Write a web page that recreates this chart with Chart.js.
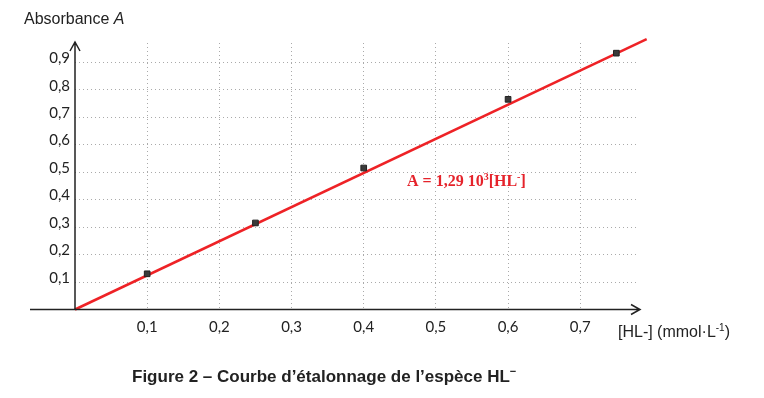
<!DOCTYPE html>
<html>
<head>
<meta charset="utf-8">
<script src="https://cdn.jsdelivr.net/npm/chart.js@4"></script>
<style>
  html, body { margin: 0; padding: 0; background: #fff; }
  #wrap { width: 764px; height: 398px; }
</style>
</head>
<body>
<div id="wrap"><canvas id="etalonnage" width="764" height="398"></canvas></div>
<script>
// mesures (concentration en mmol/L, absorbance)
const concentrations = [0.1, 0.25, 0.4, 0.6, 0.75];
const absorbances = [0.13, 0.315, 0.515, 0.765, 0.933];
// droite d'étalonnage (extrémités)
const fitX = [0, 0.792];
const fitY = [0, 0.984];
const xTicks = [0.1, 0.2, 0.3, 0.4, 0.5, 0.6, 0.7];
const yTicks = [0.1, 0.2, 0.3, 0.4, 0.5, 0.6, 0.7, 0.8, 0.9];

function virgule(v) { return v.toFixed(1).replace('.', ','); }

const textes = {
  id: 'textes',
  afterDraw(chart) {
    const ctx = chart.ctx;
    const a = chart.chartArea;
    ctx.save();
    // axes avec flèches
    ctx.strokeStyle = '#222';
    ctx.lineWidth = 1.5;
    ctx.beginPath();
    ctx.moveTo(a.left - 45, a.bottom); ctx.lineTo(a.right + 2, a.bottom);
    ctx.moveTo(a.right - 7, a.bottom - 5); ctx.lineTo(a.right + 2, a.bottom); ctx.lineTo(a.right - 7, a.bottom + 5);
    ctx.moveTo(a.left, a.bottom); ctx.lineTo(a.left, a.top - 1);
    ctx.moveTo(a.left - 5, a.top + 8); ctx.lineTo(a.left, a.top - 1); ctx.lineTo(a.left + 5, a.top + 8);
    ctx.stroke();

    ctx.fillStyle = '#222';
    ctx.textBaseline = 'middle';
    ctx.font = '16px "Liberation Sans", Arial, sans-serif';
    ctx.fillText('Absorbance ', 24, 20);
    let w = ctx.measureText('Absorbance ').width;
    ctx.font = 'italic 16px "Liberation Sans", Arial, sans-serif';
    ctx.fillText('A', 24 + w, 20);

    ctx.font = '16px "Liberation Sans", Arial, sans-serif';
    let x = 618;
    ctx.fillText('[HL-] (mmol·L', x, 333);
    x += ctx.measureText('[HL-] (mmol·L').width;
    ctx.font = '10px "Liberation Sans", Arial, sans-serif';
    ctx.fillText('-1', x, 328);
    x += ctx.measureText('-1').width;
    ctx.font = '16px "Liberation Sans", Arial, sans-serif';
    ctx.fillText(')', x, 333);

    // équation
    ctx.fillStyle = '#e5232b';
    ctx.textBaseline = 'alphabetic';
    const sy = 186;
    x = 407;
    ctx.font = 'bold 16px "Liberation Serif", "Times New Roman", serif';
    ctx.fillText('A = 1,29 10', x, sy);
    x += ctx.measureText('A = 1,29 10').width;
    ctx.font = 'bold 10px "Liberation Serif", "Times New Roman", serif';
    ctx.fillText('3', x, sy - 6);
    x += ctx.measureText('3').width;
    ctx.font = 'bold 16px "Liberation Serif", "Times New Roman", serif';
    ctx.fillText('[HL', x, sy);
    x += ctx.measureText('[HL').width;
    ctx.font = 'bold 10px "Liberation Serif", "Times New Roman", serif';
    ctx.fillText('-', x, sy - 6);
    x += ctx.measureText('-').width;
    ctx.font = 'bold 16px "Liberation Serif", "Times New Roman", serif';
    ctx.fillText(']', x, sy);

    // légende de la figure
    ctx.fillStyle = '#222';
    ctx.textBaseline = 'middle';
    ctx.font = 'bold 17px "Liberation Sans", Arial, sans-serif';
    x = 132;
    ctx.fillText('Figure 2 – Courbe d’étalonnage de l’espèce HL', x, 377);
    x += ctx.measureText('Figure 2 – Courbe d’étalonnage de l’espèce HL').width;
    ctx.font = 'bold 11px "Liberation Sans", Arial, sans-serif';
    ctx.fillText('−', x, 372);
    ctx.restore();
  }
};

const ctx = document.getElementById('etalonnage').getContext('2d');
new Chart(ctx, {
  type: 'scatter',
  data: {
    datasets: [{
      label: 'droite',
      data: fitX.map((v, i) => ({ x: v, y: fitY[i] })),
      showLine: true,
      borderColor: '#ee2226',
      borderWidth: 2.5,
      pointRadius: 0,
      clip: false,
      order: 2
    }, {
      label: 'mesures',
      data: concentrations.map((v, i) => ({ x: v, y: absorbances[i] })),
      pointStyle: 'rect',
      pointRadius: 4,
      backgroundColor: '#3a3a3a',
      borderColor: '#222',
      borderWidth: 1,
      order: 1
    }]
  },
  options: {
    responsive: false,
    animation: false,
    layout: { padding: { left: 0, right: 126, top: 43, bottom: 0 } },
    plugins: { legend: { display: false }, tooltip: { enabled: false } },
    scales: {
      x: {
        type: 'linear',
        min: 0,
        max: 0.78,
        afterBuildTicks: function(axis) { axis.ticks = xTicks.map(v => ({ value: v })); },
        afterFit: function(axis) { axis.height = 88.5; },
        grid: { color: '#aaa', lineWidth: 1, drawTicks: false },
        border: { display: false, dash: [1, 3] },
        ticks: {
          padding: 9,
          color: '#222',
          font: { family: 'Lato, "Open Sans", sans-serif', size: 15 },
          callback: function(v) { return virgule(v); }
        }
      },
      y: {
        min: 0,
        max: 0.97,
        afterBuildTicks: function(axis) { axis.ticks = yTicks.map(v => ({ value: v })); },
        afterFit: function(axis) { axis.width = 75; },
        grid: { color: '#aaa', lineWidth: 1, drawTicks: false },
        border: { display: false, dash: [1, 3] },
        ticks: {
          padding: 5,
          labelOffset: -4,
          color: '#222',
          font: { family: 'Lato, "Open Sans", sans-serif', size: 15 },
          callback: function(v) { return virgule(v); }
        }
      }
    }
  },
  plugins: [textes]
});
</script>
</body>
</html>
